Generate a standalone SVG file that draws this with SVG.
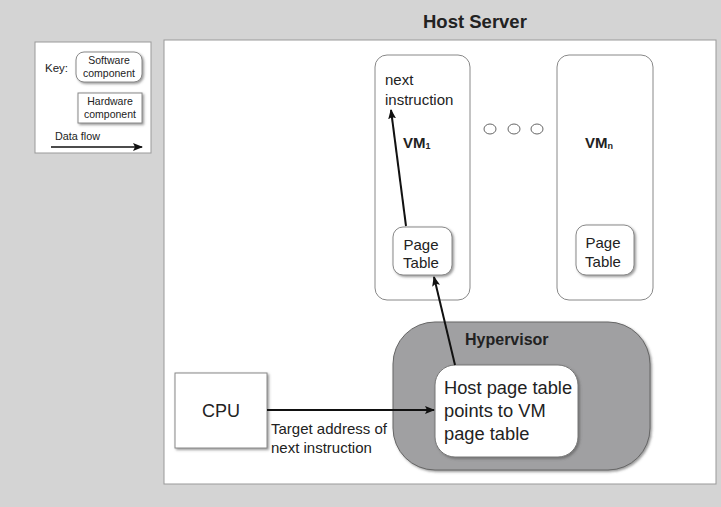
<svg xmlns="http://www.w3.org/2000/svg" width="721" height="507" viewBox="0 0 721 507">
<defs>
<marker id="ah" markerWidth="10" markerHeight="8" refX="9" refY="4" orient="auto" markerUnits="userSpaceOnUse">
<path d="M0,0 L10,4 L0,8 L2,4 Z" fill="#111"/>
</marker>
<filter id="sh" x="-10%" y="-10%" width="130%" height="130%">
<feDropShadow dx="1.5" dy="1.5" stdDeviation="1" flood-color="#555" flood-opacity="0.6"/>
</filter>
</defs>
<style>
text{font-family:"Liberation Sans",Arial,sans-serif;fill:#222}
.box{fill:#fff;stroke:#888;stroke-width:1}
.b{font-weight:bold}
.conn{stroke:#111;stroke-width:2;fill:none;marker-end:url(#ah)}
</style>
<rect x="0" y="0" width="721" height="507" fill="#d4d4d4"/>
<g id="host">
<rect x="164" y="40" width="552" height="444" fill="#fff" stroke="#999"/>
<text x="423" y="28" font-size="18.5" class="b">Host Server</text>
</g>
<g id="key">
<rect x="35" y="42" width="116" height="111" fill="#fff" stroke="#999"/>
<text x="45" y="72" font-size="11.5">Key:</text>
<rect x="76" y="52" width="66" height="30" rx="8" class="box" filter="url(#sh)"/>
<text x="109" y="64" font-size="10.5" text-anchor="middle">Software</text>
<text x="109" y="77" font-size="10.5" text-anchor="middle">component</text>
<rect x="78" y="93" width="64" height="30" class="box" filter="url(#sh)"/>
<text x="110" y="105" font-size="10.5" text-anchor="middle">Hardware</text>
<text x="110" y="118" font-size="10.5" text-anchor="middle">component</text>
<text x="55" y="140" font-size="10.8">Data flow</text>
<line x1="51" y1="147" x2="142" y2="147" stroke="#111" stroke-width="1.5" marker-end="url(#ah)"/>
</g>
<g id="vm1">
<rect x="375" y="55" width="95" height="245" rx="12" class="box"/>
<text x="385" y="85" font-size="15">next</text>
<text x="385" y="105" font-size="15">instruction</text>
<text x="403" y="148" font-size="15" class="b">VM<tspan font-size="9" dy="1">1</tspan></text>
</g>
<g id="pt1">
<rect x="393" y="227" width="59" height="48" rx="10" class="box" filter="url(#sh)"/>
<text x="421" y="250" font-size="15" text-anchor="middle">Page</text>
<text x="421" y="268" font-size="15" text-anchor="middle">Table</text>
</g>
<g id="dots">
<ellipse cx="490" cy="129" rx="6" ry="5" fill="#fff" stroke="#666"/>
<ellipse cx="514" cy="129" rx="6" ry="5" fill="#fff" stroke="#666"/>
<ellipse cx="537" cy="129" rx="6" ry="5" fill="#fff" stroke="#666"/>
</g>
<g id="vmn">
<rect x="557" y="55" width="96" height="245" rx="12" class="box"/>
<text x="585" y="148" font-size="15" class="b">VM<tspan font-size="9" dy="1">n</tspan></text>
</g>
<g id="ptn">
<rect x="576" y="225" width="58" height="50" rx="10" class="box" filter="url(#sh)"/>
<text x="603" y="248" font-size="15" text-anchor="middle">Page</text>
<text x="603" y="267" font-size="15" text-anchor="middle">Table</text>
</g>
<g id="hypervisor">
<rect x="393" y="322" width="257" height="148" rx="42" fill="#a0a0a2" stroke="#666" filter="url(#sh)"/>
<text x="465" y="345" font-size="16" class="b">Hypervisor</text>
</g>
<g id="hpt">
<rect x="435" y="365" width="143" height="92" rx="20" fill="#fff" stroke="#777" filter="url(#sh)"/>
<text x="444" y="394" font-size="18.3">Host page table</text>
<text x="444" y="417" font-size="18.3">points to VM</text>
<text x="444" y="440" font-size="18.3">page table</text>
</g>
<g id="cpu">
<rect x="175" y="373" width="92" height="75" class="box" filter="url(#sh)"/>
<text x="221" y="417" font-size="18" text-anchor="middle">CPU</text>
</g>
<g id="connectors">
<line x1="267" y1="410" x2="434" y2="410" class="conn"/>
<line x1="455" y1="365" x2="434" y2="277" class="conn"/>
<line x1="406" y1="226" x2="391" y2="110" class="conn"/>
<text x="271" y="434" font-size="15">Target address of</text>
<text x="271" y="453" font-size="15">next instruction</text>
</g>
</svg>
